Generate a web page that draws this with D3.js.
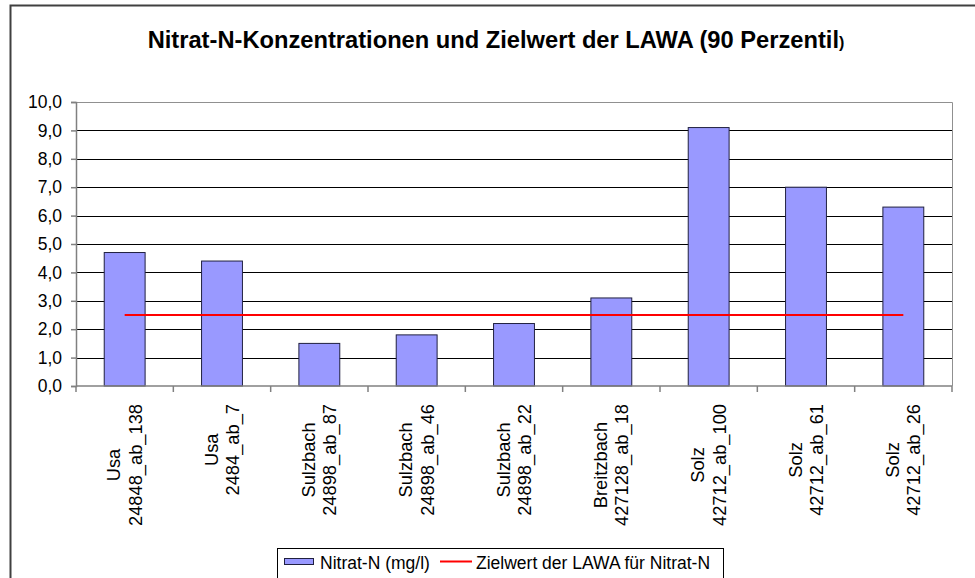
<!DOCTYPE html>
<html>
<head>
<meta charset="utf-8">
<script src="https://cdn.jsdelivr.net/npm/d3@7"></script>
<style>
  html, body { margin: 0; padding: 0; background: #fff; }
  svg { display: block; font-family: "Liberation Sans", Arial, sans-serif; }
</style>
</head>
<body>
<svg id="chart" width="975" height="578"></svg>
<script>
// ---- data ----
const stations = ["Usa", "Usa", "Sulzbach", "Sulzbach", "Sulzbach", "Breitzbach", "Solz", "Solz", "Solz"];
const stationIds = ["24848_ab_138", "2484_ab_7", "24898_ab_87", "24898_ab_46", "24898_ab_22", "427128_ab_18", "42712_ab_100", "42712_ab_61", "42712_ab_26"];
const nitratValues = [4.7, 4.4, 1.5, 1.8, 2.2, 3.1, 9.1, 7.0, 6.3];
const zielwert = [2.5, 2.5, 2.5, 2.5, 2.5, 2.5, 2.5, 2.5, 2.5];
const yTicks = [0, 1, 2, 3, 4, 5, 6, 7, 8, 9, 10];
const titleMain = "Nitrat-N-Konzentrationen und Zielwert der LAWA (90 Perzentil";
const titleEnd = ")";
const legendLabels = ["Nitrat-N (mg/l)", "Zielwert der LAWA für Nitrat-N"];

// ---- layout ----
const svg = d3.select("#chart");
const plot = { left: 76, right: 952, top: 102, bottom: 386 };
const cats = stationIds.map((d, i) => i);

const x = d3.scaleBand().domain(cats).range([plot.left, plot.right]).padding(0);
const y = d3.scaleLinear().domain([0, 10]).range([plot.bottom, plot.top]);
const barW = x.bandwidth() * 0.42;

// outer frame
svg.append("rect")
  .attr("x", 10.5).attr("y", 5.5).attr("width", 980).attr("height", 600)
  .attr("fill", "#fff").attr("stroke", "#404040").attr("stroke-width", 2);

// title
const title = svg.append("text")
  .attr("x", 496).attr("y", 48)
  .attr("text-anchor", "middle")
  .attr("font-weight", "bold").attr("font-size", 23.7)
  .attr("fill", "#000");
title.append("tspan").text(titleMain);
title.append("tspan").attr("font-size", 16).text(titleEnd);

// gridlines
svg.append("g").selectAll("line").data(yTicks.filter(d => d > 0 && d < 10)).join("line")
  .attr("x1", plot.left).attr("x2", plot.right)
  .attr("y1", d => Math.round(y(d)) + 0.5).attr("y2", d => Math.round(y(d)) + 0.5)
  .attr("stroke", "#000").attr("stroke-width", 1);

// plot-area top & right border
svg.append("path")
  .attr("d", `M${plot.left},${plot.top + 0.5}H${plot.right + 0.5}V${plot.bottom}`)
  .attr("fill", "none").attr("stroke", "#909090").attr("stroke-width", 1);

// bars
svg.append("g").selectAll("rect").data(nitratValues).join("rect")
  .attr("x", (d, i) => x(i) + (x.bandwidth() - barW) / 2)
  .attr("width", barW)
  .attr("y", d => y(d))
  .attr("height", d => y(0) - y(d))
  .attr("fill", "#9999FF").attr("stroke", "#202040").attr("stroke-width", 1);

// y axis
const yAxis = d3.axisLeft(y).tickValues(yTicks).tickSize(5).tickPadding(9)
  .tickFormat(d => d3.format(".1f")(d).replace(".", ","));
const gy = svg.append("g").attr("transform", `translate(${plot.left},0)`).call(yAxis);
gy.select(".domain").attr("stroke", "#808080").attr("stroke-width", 1.5);
gy.selectAll(".tick line").attr("stroke", "#808080").attr("stroke-width", 1.5);
gy.selectAll(".tick text").attr("font-size", 17.5).attr("fill", "#000")
  .attr("font-family", "Liberation Sans, Arial, sans-serif");

// x axis (ticks at category boundaries)
svg.append("line")
  .attr("x1", plot.left).attr("x2", plot.right)
  .attr("y1", plot.bottom).attr("y2", plot.bottom)
  .attr("stroke", "#808080").attr("stroke-width", 1.5);
const bounds = cats.map(i => x(i)).concat([plot.right]);
svg.append("g").selectAll("line").data(bounds).join("line")
  .attr("x1", d => d).attr("x2", d => d)
  .attr("y1", plot.bottom).attr("y2", plot.bottom + 6)
  .attr("stroke", "#808080").attr("stroke-width", 1.5);

// x labels (rotated, two lines)
const labG = svg.append("g");
cats.forEach(i => {
  const cx = x(i) + x.bandwidth() / 2;
  const lines = [stations[i], stationIds[i]];
  const g = labG.append("g");
  const texts = lines.map((t, k) => g.append("text")
    .attr("font-size", 18.3).attr("fill", "#000")
    .attr("text-anchor", "middle").text(t));
  const maxLen = d3.max(texts, t => t.node().getComputedTextLength());
  const cy = 404 + maxLen / 2;
  texts.forEach((t, k) => {
    const bx = cx - 4.5 + 21.5 * k;
    t.attr("transform", `translate(${bx},${cy}) rotate(-90)`);
  });
});

// red target line
const line = d3.line().x((d, i) => x(i) + x.bandwidth() / 2).y(d => y(d));
svg.append("path").datum(zielwert)
  .attr("d", line).attr("fill", "none")
  .attr("stroke", "#FF0000").attr("stroke-width", 2);

// legend
const lg = svg.append("g");
lg.append("rect").attr("x", 277.5).attr("y", 548.5).attr("width", 446).attr("height", 50)
  .attr("fill", "#fff").attr("stroke", "#000").attr("stroke-width", 1);
lg.append("rect").attr("x", 284.5).attr("y", 558.5).attr("width", 29).attr("height", 6)
  .attr("fill", "#9999FF").attr("stroke", "#202040").attr("stroke-width", 1);
lg.append("text").attr("x", 320).attr("y", 569).attr("font-size", 17.5).attr("fill", "#000")
  .text(legendLabels[0]);
lg.append("line").attr("x1", 440).attr("x2", 472).attr("y1", 561.5).attr("y2", 561.5)
  .attr("stroke", "#FF0000").attr("stroke-width", 2);
lg.append("text").attr("x", 476).attr("y", 569).attr("font-size", 17.5).attr("fill", "#000")
  .text(legendLabels[1]);
</script>
</body>
</html>
